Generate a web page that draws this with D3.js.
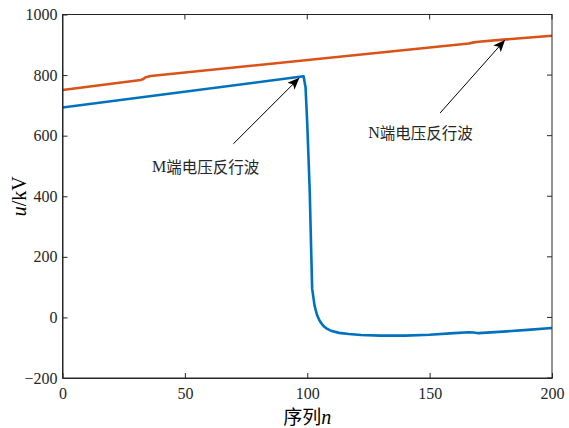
<!DOCTYPE html>
<html><head><meta charset="utf-8">
<script src="https://cdn.jsdelivr.net/npm/d3@7"></script>
<style>
html,body{margin:0;padding:0;background:#fff;}
svg{display:block;}
text{font-family:"Liberation Serif","Times New Roman",serif;}
</style></head>
<body>
<script>
// ---- data ----
const nBlue = [0,98.5,99.3,100,101,102,103,104,105,106,107,108,110,113,117,122,130,140,150,160,166,168,170,180,190,200];
const uBlue = [693,796,760,640,420,95,38,8,-10,-22,-31,-37,-45,-51,-55,-58,-60,-60,-57,-52,-49,-50,-52,-47,-41,-35];
const nOrange = [0,32,33,34,36,166,168,170,180,200];
const uOrange = [751,784,787,793,797,904,908,910,917,930];
const xTicks = [0,50,100,150,200];
const yTicks = [-200,0,200,400,600,800,1000];
const annotations = [
  {label:"M端电压反行波", tx:36.6, ty:500, x1:69.8, y1:573, x2:96.8, y2:791},
  {label:"N端电压反行波", tx:124.9, ty:613, x1:154.3, y1:675, x2:180.8, y2:916}
];

const W=569,H=428;
const m={l:62.5,r:17,t:14.5,b:50};
const svg=d3.select("body").append("svg").attr("width",W).attr("height",H);
const x=d3.scaleLinear().domain([0,200]).range([m.l,W-m.r]);
const y=d3.scaleLinear().domain([-200,1000]).range([H-m.b,m.t]);
const axisColor="#262626";
const serif="'Liberation Serif','Times New Roman',serif";
const cjk="'Noto Sans CJK SC',sans-serif";

// lines
const line=d3.line().x(d=>x(d[0])).y(d=>y(d[1]));
svg.append("path").datum(nOrange.map((n,i)=>[n,uOrange[i]]))
  .attr("d",line).attr("fill","none").attr("stroke","#D95319").attr("stroke-width",2.6).attr("stroke-linejoin","round");
svg.append("path").datum(nBlue.map((n,i)=>[n,uBlue[i]]))
  .attr("d",line).attr("fill","none").attr("stroke","#0072BD").attr("stroke-width",2.6).attr("stroke-linejoin","round");

// box
svg.append("rect").attr("x",x(0)).attr("y",y(1000)).attr("width",x(200)-x(0)).attr("height",y(-200)-y(1000))
  .attr("fill","none").attr("stroke",axisColor).attr("stroke-width",1);

// axes
const xa=svg.append("g").attr("transform",`translate(0,${y(-200)})`)
  .call(d3.axisBottom(x).tickValues(xTicks).tickFormat(d3.format("d")).tickSizeInner(-5).tickSizeOuter(0).tickPadding(10));
const ya=svg.append("g").attr("transform",`translate(${x(0)},0)`)
  .call(d3.axisLeft(y).tickValues(yTicks).tickFormat(d3.format("d")).tickSizeInner(-5).tickSizeOuter(0).tickPadding(5));
[xa,ya].forEach(g=>{
  g.attr("font-family",serif).attr("font-size",16);
  g.select(".domain").attr("stroke",axisColor);
  g.selectAll(".tick line").attr("stroke",axisColor);
  g.selectAll("text").attr("fill","#262626").style("font-family",serif).style("font-size","16px");
});
// top/right ticks
svg.append("g").selectAll("line").data(xTicks).join("line")
  .attr("x1",d=>x(d)).attr("x2",d=>x(d)).attr("y1",y(1000)).attr("y2",y(1000)+5).attr("stroke",axisColor);
svg.append("g").selectAll("line").data(yTicks).join("line")
  .attr("x1",x(200)).attr("x2",x(200)-5).attr("y1",d=>y(d)).attr("y2",d=>y(d)).attr("stroke",axisColor);

// axis titles
const xt=svg.append("text").attr("x",(x(0)+x(200))/2).attr("y",H-4).attr("text-anchor","middle")
  .style("font-size","20px").attr("fill","#000");
xt.append("tspan").text("序列").style("font-family",cjk).style("font-size","19px");
xt.append("tspan").text("n").style("font-style","italic");
const yt=svg.append("text").attr("transform",`translate(26,${(y(-200)+y(1000))/2}) rotate(-90)`)
  .attr("text-anchor","middle").style("font-size","20px").attr("fill","#000");
yt.append("tspan").text("u").style("font-style","italic");
yt.append("tspan").text("/kV");

// annotations
const defs=svg.append("defs");
defs.append("marker").attr("id","ah").attr("viewBox","0 0 12 10").attr("refX",12).attr("refY",5)
  .attr("markerWidth",12).attr("markerHeight",10).attr("markerUnits","userSpaceOnUse").attr("orient","auto")
  .append("path").attr("d","M0,0 L12,5 L0,10 L3,5 Z").attr("fill","#000");
annotations.forEach(a=>{
  svg.append("line").attr("x1",x(a.x1)).attr("y1",y(a.y1)).attr("x2",x(a.x2)).attr("y2",y(a.y2))
    .attr("stroke","#000").attr("stroke-width",1).attr("marker-end","url(#ah)");
  const t=svg.append("text").attr("x",x(a.tx)).attr("y",y(a.ty)).attr("dominant-baseline","central")
    .style("font-size","16px").attr("fill","#262626");
  t.append("tspan").text(a.label[0]);
  t.append("tspan").text(a.label.slice(1)).style("font-family",cjk).style("font-size","15.5px");
});
</script>
</body></html>
